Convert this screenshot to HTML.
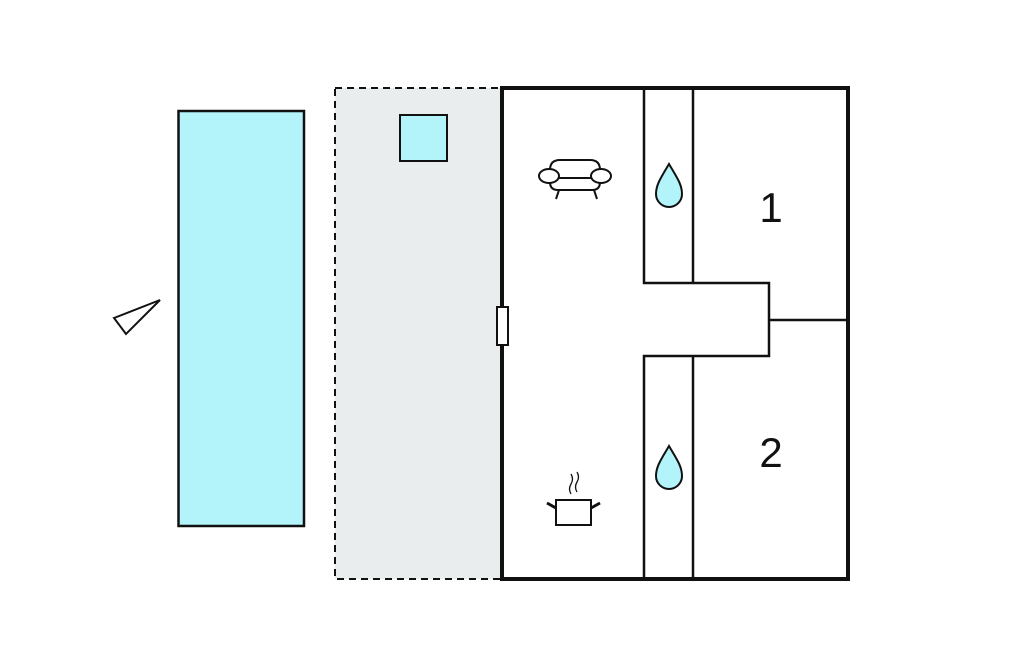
<!DOCTYPE html>
<html><head><style>body{margin:0;background:#fff}svg{display:block}</style></head><body>
<svg width="1024" height="652" viewBox="0 0 1024 652" xmlns="http://www.w3.org/2000/svg">
<rect x="335" y="88" width="167" height="491" fill="#e9eded" stroke="#111" stroke-width="2" stroke-dasharray="7,5"/>
<rect x="400" y="115" width="47" height="46" fill="#b3f3fa" stroke="#111" stroke-width="2"/>
<rect x="178.5" y="111" width="125.5" height="415" fill="#b3f3fa" stroke="#111" stroke-width="2.5"/>
<polygon points="114,318 160,300 126,334" fill="#fff" stroke="#111" stroke-width="2"/>
<rect x="502" y="88" width="346" height="491" fill="#fff" stroke="#111" stroke-width="4"/>
<g stroke="#111" stroke-width="2.5" fill="none">
<path d="M644 88 V283 H769 V356 H644 V579"/>
<path d="M693 88 V283 M693 356 V579"/>
<path d="M769 320 H848"/>
</g>
<rect x="497" y="307" width="11" height="38" fill="#fff" stroke="#111" stroke-width="2"/>
<g fill="#b3f3fa" stroke="#111" stroke-width="2">
<path d="M669 164 C662 176 656 184 656 194 A13 13 0 0 0 682 194 C682 184 676 176 669 164 Z"/>
<path d="M669 446 C662 458 656 466 656 476 A13 13 0 0 0 682 476 C682 466 676 458 669 446 Z"/>
</g>
<g fill="#fff" stroke="#111" stroke-width="2">
<path d="M550 170 Q550 160 560 160 H590 Q600 160 600 170 V182 Q600 190 592 190 H558 Q550 190 550 182 Z"/>
<ellipse cx="549" cy="176" rx="10" ry="7"/>
<ellipse cx="601" cy="176" rx="10" ry="7"/>
<path d="M559 178 H591" fill="none"/>
<path d="M559 190 L556 199 M594 190 L597 199" fill="none"/>
<rect x="556" y="500" width="35" height="25"/>
<path d="M556 508 L547 503 M591 508 L600 503" fill="none" stroke-width="3"/>
<path d="M571 494 q-3 -5 0 -10 q3 -5 0 -10 M577 492 q-3 -5 0 -10 q3 -5 0 -10" fill="none" stroke-width="1.3"/>
</g>
<text x="771" y="222" font-family="Liberation Sans, sans-serif" font-size="42" text-anchor="middle" fill="#111">1</text>
<text x="771" y="467" font-family="Liberation Sans, sans-serif" font-size="42" text-anchor="middle" fill="#111">2</text>
</svg>
</body></html>
